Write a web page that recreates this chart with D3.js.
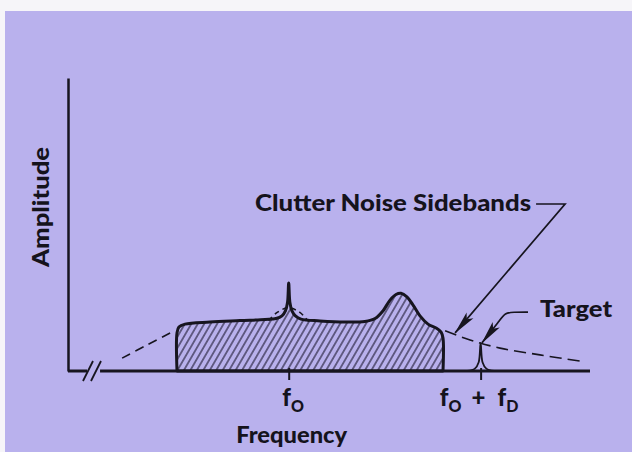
<!DOCTYPE html>
<html>
<head>
<meta charset="utf-8">
<script src="https://cdn.jsdelivr.net/npm/d3@7"></script>
<style>
	html, body { margin: 0; padding: 0; background: #f6f5f9; }
	svg { display: block; }
	text { font-family: Lato, "Open Sans", sans-serif; font-weight: 900; fill: #15131c; }
</style>
</head>
<body>
<svg id="chart"></svg>
<script>
// frequency in units of fD, measured from f0 ; amplitude in arbitrary units
const clutterFreq = [
	-0.582, -0.582, -0.572, -0.540, -0.410, -0.254, -0.123, -0.066, -0.035, -0.017, -0.006,
	0, 0.006, 0.017, 0.035, 0.064, 0.163, 0.293, 0.397, 0.450, 0.491, 0.528, 0.559,
	0.585, 0.616, 0.648, 0.684, 0.726, 0.768, 0.794, 0.804, 0.804,
];
const clutterAmp = [
	0, 1.30, 1.50, 1.60, 1.67, 1.72, 1.76, 1.79, 1.88, 2.05, 2.35,
	3.00, 2.35, 2.05, 1.88, 1.77, 1.71, 1.67, 1.69, 1.79, 2.05, 2.42, 2.61,
	2.65, 2.53, 2.25, 1.88, 1.60, 1.47, 1.33, 1.13, 0,
];

// dashed clutter envelope, seen outside the hatched band and under the f0 line
const tailLeftFreq = [-0.868, -0.738, -0.608];
const tailLeftAmp = [0.44, 0.89, 1.33];
const bumpFreq = [-0.105, -0.060, 0, 0.058, 0.105];
const bumpAmp = [1.72, 2.00, 2.16, 2.00, 1.68];
const tailRightFreq = [0.815, 0.945, 1.101, 1.309, 1.518];
const tailRightAmp = [1.37, 1.06, 0.78, 0.55, 0.34];

// target return at f0 + fD
const targetFreq = [0.93, 0.97, 0.99, 1.0, 1.01, 1.03, 1.07];
const targetAmp = [0, 0.08, 0.30, 0.96, 0.30, 0.08, 0];

const tickValues = [0, 1];
const tickLabels = [
	[["f", 0], ["O", 1]],
	[["f", 0], ["O", 1], ["+", 0], ["f", 0], ["D", 1]],
];

const width = 632;
const height = 452;
const ink = "#17151f";

const x = d3.scaleLinear([-1.15, 1.57], [68, 590]);
const y = d3.scaleLinear([0, 10], [371, 78]);

const svg = d3.select("#chart")
              .attr("width", width)
              .attr("height", height);

svg.append("rect").attr("width", width).attr("height", height).attr("fill", "#f6f5f9");
svg.append("rect")
   .attr("x", 5).attr("y", 11)
   .attr("width", width - 5).attr("height", height - 11)
   .attr("fill", "#b9b1ed");

const defs = svg.append("defs");
defs.append("pattern")
    .attr("id", "hatch")
    .attr("patternUnits", "userSpaceOnUse")
    .attr("width", 5.6).attr("height", 5.6)
    .attr("patternTransform", "rotate(30)")
    .append("line")
    .attr("x1", 2.8).attr("y1", 0).attr("x2", 2.8).attr("y2", 5.6)
    .attr("stroke", "#2b2742").attr("stroke-width", 1.2);

defs.append("marker")
    .attr("id", "arrow")
    .attr("viewBox", "0 0 24 10")
    .attr("refX", 23).attr("refY", 5)
    .attr("markerWidth", 24).attr("markerHeight", 10)
    .attr("markerUnits", "userSpaceOnUse")
    .attr("orient", "auto")
    .append("path")
    .attr("d", "M0,0.5L24,5L0,9.5L5,5Z")
    .attr("fill", ink);

const pts = (fs, as) => fs.map((f, i) => [x(f), y(as[i])]);
const smooth = d3.line().curve(d3.curveCatmullRom.alpha(0.5));

// dashed envelope
const dashed = svg.append("g")
                  .attr("fill", "none")
                  .attr("stroke", ink)
                  .attr("stroke-width", 1.6);
dashed.append("path").attr("d", smooth(pts(tailLeftFreq, tailLeftAmp))).attr("stroke-dasharray", "9,6");
dashed.append("path").attr("d", smooth(pts(bumpFreq, bumpAmp))).attr("stroke-dasharray", "5,4");
dashed.append("path").attr("d", smooth(pts(tailRightFreq, tailRightAmp))).attr("stroke-dasharray", "12,6");

// hatched clutter band
svg.append("path")
   .attr("d", smooth(pts(clutterFreq, clutterAmp)) + "Z")
   .attr("fill", "url(#hatch)")
   .attr("stroke", ink)
   .attr("stroke-width", 3)
   .attr("stroke-linejoin", "round");

// target line
svg.append("path")
   .attr("d", smooth(pts(targetFreq, targetAmp)))
   .attr("fill", "none")
   .attr("stroke", ink)
   .attr("stroke-width", 1.8);

// axes
svg.append("g")
   .attr("transform", `translate(${x.range()[0]}, 0)`)
   .call(d3.axisLeft(y).tickValues([]).tickSizeOuter(0))
   .call(g => g.select(".domain").attr("stroke", ink).attr("stroke-width", 2.5));

const breakLo = -1.051;
const breakHi = -0.983;
const axisG = svg.append("g")
   .attr("transform", `translate(0, ${y(0)})`)
   .call(d3.axisBottom(x).tickValues(tickValues).tickSize(9).tickSizeOuter(0))
   .call(g => g.select(".domain").remove())
   .call(g => g.selectAll(".tick line").attr("stroke", ink).attr("stroke-width", 2).attr("y1", -3));

axisG.selectAll(".x-seg")
     .data([[x.domain()[0], breakLo], [breakHi, x.domain()[1]]])
     .join("line")
     .attr("x1", d => x(d[0])).attr("x2", d => x(d[1]))
     .attr("stroke", ink).attr("stroke-width", 3);

axisG.selectAll(".brk")
     .data([x(breakLo) + 1, x(breakLo) + 9])
     .join("path")
     .attr("d", cx => `M${cx - 5},10Q${cx - 1},2 ${cx},0T${cx + 5},-10`)
     .attr("fill", "none").attr("stroke", ink).attr("stroke-width", 1.8);

axisG.selectAll(".tick text")
     .attr("y", 35).attr("dy", null)
     .attr("font-size", 24)
     .attr("fill", ink)
     .attr("dx", (d, i) => i === 0 ? 4 : -2)
     .text(null)
     .each(function(d, i) {
		const t = d3.select(this);
		let sub = false;
		tickLabels[i].forEach(([s, isSub], k) => {
			const ts = t.append("tspan").text(s);
			if (isSub) ts.attr("font-size", 16).attr("dy", sub ? 0 : 6);
			else if (sub) ts.attr("dy", -6);
			if (k === 2) ts.attr("dx", 10);
			if (k === 3) ts.attr("dx", 12);
			sub = !!isSub;
		});
	 });

// titles
svg.append("text")
   .attr("x", x(0) + 3).attr("y", 443)
   .attr("text-anchor", "middle")
   .attr("font-size", 23)
   .attr("textLength", 111).attr("lengthAdjust", "spacingAndGlyphs")
   .text("Frequency");

svg.append("text")
   .attr("transform", `translate(49, ${y(5.6)}) rotate(-90)`)
   .attr("text-anchor", "middle")
   .attr("font-size", 23)
   .attr("textLength", 120).attr("lengthAdjust", "spacingAndGlyphs")
   .text("Amplitude");

// annotations
svg.append("text")
   .attr("x", x(1.263)).attr("y", y(5.46))
   .attr("text-anchor", "end")
   .attr("font-size", 23)
   .attr("textLength", 276).attr("lengthAdjust", "spacingAndGlyphs")
   .text("Clutter Noise Sidebands");

svg.append("text")
   .attr("x", x(1.310)).attr("y", y(1.84))
   .attr("font-size", 23)
   .attr("textLength", 72).attr("lengthAdjust", "spacingAndGlyphs")
   .text("Target");

const leader = svg.append("g")
                  .attr("fill", "none")
                  .attr("stroke", ink)
                  .attr("stroke-width", 1.7)
                  .attr("marker-end", "url(#arrow)");

leader.append("path")
      .attr("d", d3.line()(pts([1.289, 1.440, 0.867], [5.70, 5.70, 1.30])));

leader.append("path")
      .attr("d", d3.line().curve(d3.curveBasis)(pts([1.247, 1.169, 1.127, 1.101, 1.007], [2.01, 2.01, 1.98, 1.74, 0.96])));
</script>
</body>
</html>
